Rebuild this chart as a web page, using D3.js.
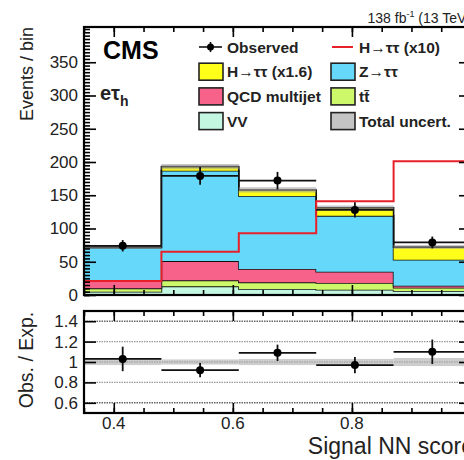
<!DOCTYPE html>
<html>
<head>
<meta charset="utf-8">
<script src="https://cdn.jsdelivr.net/npm/d3@7"></script>
<style>
  body { margin: 0; background: #fff; }
  text { font-family: "Liberation Sans", Arial, sans-serif; }
</style>
</head>
<body>
<svg id="chart"></svg>
<script>
// binned NN score distribution, e-tau_h channel
const binEdges = [0.35, 0.48, 0.61, 0.74, 0.87, 1.0];
const vv = [5, 13, 9, 8, 6];
const ttbar = [5, 9, 10, 10, 5];
const qcd = [11, 29, 20, 17, 3];
const ztt = [50, 136, 110, 84, 39];
const htt = [1, 6, 9, 12, 19];
const hx10 = [21, 65, 93, 141, 201];
const observed = [74, 179, 172, 128, 79];
const obsErr = [8.6, 13.4, 13.1, 11.3, 8.9];
const totalUnc = [2.5, 4, 4, 3.5, 3];
const ratio = [1.03, 0.92, 1.09, 0.97, 1.10];
const ratioErr = [0.12, 0.07, 0.08, 0.08, 0.12];
const ratioUnc = [0.03, 0.025, 0.03, 0.03, 0.04];
const yTicks = [0, 50, 100, 150, 200, 250, 300, 350];
const rTicks = [0.6, 0.8, 1, 1.2, 1.4];
const xTicks = [0.4, 0.6, 0.8, 1.0];
const xLabels = [0.4, 0.6, 0.8];

const width = 464;
const height = 460;

const svg = d3.select("#chart")
    .attr("width", width)
    .attr("height", height);

const left = 84, right = 471;
const x = d3.scaleLinear().domain([0.35, 1.0]).range([left, right]);
const y = d3.scaleLinear().domain([0, 403]).range([295, 27]);
const yr = d3.scaleLinear().domain([0.5, 1.5]).range([413, 311]);

// stack table built from the arrays
const keys = ["vv", "ttbar", "qcd", "ztt", "htt"];
const colors = { vv: "#c4f7e2", ttbar: "#ccf86a", qcd: "#f7628b", ztt: "#66d9fa", htt: "#ffff1a" };
const table = binEdges.slice(0, -1).map((e, i) => ({
    lo: e, vv: vv[i], ttbar: ttbar[i], qcd: qcd[i], ztt: ztt[i], htt: htt[i]
}));
const series = d3.stack().keys(keys)(table);

// step points: one per bin edge, last repeats last bin
function stepPts(vals) {
    const pts = vals.map((v, i) => [binEdges[i], v]);
    pts.push([binEdges[binEdges.length - 1], vals[vals.length - 1]]);
    return pts;
}

const area = d3.area()
    .curve(d3.curveStepAfter)
    .x(d => x(d[0]))
    .y0(d => y(d[1]))
    .y1(d => y(d[2]));
const line = d3.line()
    .curve(d3.curveStepAfter)
    .x(d => x(d[0]))
    .y(d => y(d[1]));

const main = svg.append("g");

series.forEach(s => {
    const pts = s.map((d, i) => [binEdges[i], d[0], d[1]]);
    pts.push([binEdges[binEdges.length - 1], s[s.length - 1][0], s[s.length - 1][1]]);
    main.append("path")
        .attr("d", area(pts))
        .attr("fill", colors[s.key]);
    main.append("path")
        .attr("d", line(pts.map(p => [p[0], p[2]])))
        .attr("fill", "none")
        .attr("stroke", "#111")
        .attr("stroke-width", 1.6);
});

// total uncertainty band
const totals = table.map(r => keys.reduce((a, k) => a + r[k], 0));
const uncPts = stepPts(totals).map((p, i) => {
    const j = Math.min(i, totals.length - 1);
    return [p[0], p[1] - totalUnc[j], p[1] + totalUnc[j]];
});
main.append("path")
    .attr("d", area(uncPts))
    .attr("fill", "#9a9a9a")
    .attr("opacity", 0.55);

// signal x10 line
main.append("path")
    .attr("d", line(stepPts(hx10)))
    .attr("fill", "none")
    .attr("stroke", "#e8202a")
    .attr("stroke-width", 2);

// observed points
const centers = binEdges.slice(0, -1).map((e, i) => (e + binEdges[i + 1]) / 2);
observed.forEach((v, i) => {
    main.append("line")
        .attr("x1", x(binEdges[i])).attr("x2", x(binEdges[i + 1]))
        .attr("y1", y(v)).attr("y2", y(v))
        .attr("stroke", "#111").attr("stroke-width", 1.8);
    main.append("line")
        .attr("x1", x(centers[i])).attr("x2", x(centers[i]))
        .attr("y1", y(v - obsErr[i])).attr("y2", y(v + obsErr[i]))
        .attr("stroke", "#111").attr("stroke-width", 1.8);
    main.append("circle")
        .attr("cx", x(centers[i])).attr("cy", y(v)).attr("r", 4)
        .attr("fill", "#000");
});

// ratio panel
const rp = svg.append("g");
ratioUnc.forEach((u, i) => {
    rp.append("rect")
        .attr("x", x(binEdges[i])).attr("width", x(binEdges[i + 1]) - x(binEdges[i]))
        .attr("y", yr(1 + u)).attr("height", yr(1 - u) - yr(1 + u))
        .attr("fill", "#cdcdcd");
});
rTicks.forEach(t => {
    const edge = (t === 0.6 || t === 1.4);
    rp.append("line")
        .attr("x1", left).attr("x2", right)
        .attr("y1", yr(t)).attr("y2", yr(t))
        .attr("stroke", edge ? "#666" : "#999")
        .attr("stroke-width", edge ? 1.6 : 1.2)
        .attr("stroke-dasharray", "1.5,1");
});
ratio.forEach((v, i) => {
    rp.append("line")
        .attr("x1", x(binEdges[i])).attr("x2", x(binEdges[i + 1]))
        .attr("y1", yr(v)).attr("y2", yr(v))
        .attr("stroke", "#111").attr("stroke-width", 1.8);
    rp.append("line")
        .attr("x1", x(centers[i])).attr("x2", x(centers[i]))
        .attr("y1", yr(v - ratioErr[i])).attr("y2", yr(v + ratioErr[i]))
        .attr("stroke", "#111").attr("stroke-width", 1.8);
    rp.append("circle")
        .attr("cx", x(centers[i])).attr("cy", yr(v)).attr("r", 4)
        .attr("fill", "#000");
});

// axes with inward ticks
function styleAxis(g) {
    g.select(".domain").remove();
    g.selectAll("line").attr("stroke", "#000").attr("stroke-width", 1.6);
    g.selectAll("text").attr("font-size", 17).attr("fill", "#222")
        .attr("font-family", "Liberation Sans, Arial, sans-serif");
}
const yMinor = d3.range(0, 403, 5);
svg.append("g").attr("transform", `translate(${left},0)`)
    .call(d3.axisLeft(y).tickValues(yMinor).tickSize(-6).tickFormat(""))
    .call(styleAxis);
svg.append("g").attr("transform", `translate(${left},0)`)
    .call(d3.axisLeft(y).tickValues(yTicks).tickSize(-12).tickPadding(6))
    .call(styleAxis);
svg.append("g").attr("transform", `translate(${right},0)`)
    .call(d3.axisRight(y).tickValues(yTicks).tickSize(-12).tickFormat(""))
    .call(styleAxis);

svg.append("g").attr("transform", `translate(${left},0)`)
    .call(d3.axisLeft(yr).tickValues(rTicks).tickSize(-12).tickPadding(6)
        .tickFormat(d => d === 1 ? "1" : d3.format(".1f")(d)))
    .call(styleAxis);
svg.append("g").attr("transform", `translate(${right},0)`)
    .call(d3.axisRight(yr).tickValues(rTicks).tickSize(-12).tickFormat(""))
    .call(styleAxis);

const xMinor = d3.range(0.35, 1.0001, 0.05);
[[27, "top"], [295, "bottom"], [311, "top"], [413, "bottom"]].forEach(([yy, side]) => {
    const ax = side === "top" ? d3.axisTop : d3.axisBottom;
    svg.append("g").attr("transform", `translate(0,${yy})`)
        .call(ax(x).tickValues(xMinor).tickSize(-5).tickFormat(""))
        .call(styleAxis);
    svg.append("g").attr("transform", `translate(0,${yy})`)
        .call(ax(x).tickValues(xTicks).tickSize(-10).tickFormat(""))
        .call(styleAxis);
});
// x tick labels under the ratio panel
svg.append("g").selectAll("text")
    .data(xLabels)
    .enter()
    .append("text")
    .attr("x", d => x(d)).attr("y", 429)
    .attr("text-anchor", "middle")
    .attr("font-size", 17).attr("fill", "#222")
    .text(d => d3.format(".1f")(d));

// frames
[[27, 295], [311, 413]].forEach(([t, b]) => {
    svg.append("rect")
        .attr("x", left).attr("y", t)
        .attr("width", right - left).attr("height", b - t)
        .attr("fill", "none").attr("stroke", "#000").attr("stroke-width", 2.2);
});

// titles
svg.append("text")
    .attr("transform", "translate(33,27) rotate(-90)")
    .attr("text-anchor", "end")
    .attr("font-size", 18).attr("fill", "#222")
    .text("Events / bin");
svg.append("text")
    .attr("transform", "translate(33,360) rotate(-90)")
    .attr("text-anchor", "middle")
    .attr("font-size", 19.5).attr("fill", "#222")
    .text("Obs. / Exp.");
svg.append("text")
    .attr("x", 474).attr("y", 454)
    .attr("text-anchor", "end")
    .attr("font-size", 23).attr("fill", "#222")
    .text("Signal NN score");

const lumi = svg.append("text")
    .attr("x", right).attr("y", 23)
    .attr("text-anchor", "end")
    .attr("font-size", 14).attr("fill", "#222");
lumi.append("tspan").text("138 fb");
lumi.append("tspan").attr("font-size", 9).attr("dy", -6).text("-1");
lumi.append("tspan").attr("dy", 6).text(" (13 TeV)");

svg.append("text")
    .attr("x", 103).attr("y", 59)
    .attr("font-size", 25).attr("font-weight", "bold")
    .text("CMS");
const chan = svg.append("text")
    .attr("x", 100).attr("y", 100)
    .attr("font-size", 20).attr("font-weight", "bold").attr("fill", "#222");
chan.append("tspan").text("eτ");
chan.append("tspan").attr("font-size", 14).attr("dy", 6).text("h");

// legend
const legendCol1 = [
    { label: "Observed", kind: "obs" },
    { label: "H→ττ (x1.6)", kind: "box", color: colors.htt },
    { label: "QCD multijet", kind: "box", color: colors.qcd },
    { label: "VV", kind: "box", color: colors.vv }
];
const legendCol2 = [
    { label: "H→ττ (x10)", kind: "line", color: "#e8202a" },
    { label: "Z→ττ", kind: "box", color: colors.ztt },
    { label: "tt̄", kind: "box", color: colors.ttbar },
    { label: "Total uncert.", kind: "box", color: "#c4c4c4" }
];
const legend = svg.append("g");
[[legendCol1, 199], [legendCol2, 331]].forEach(([col, lx]) => {
    col.forEach((d, i) => {
        const cy = 47 + i * 24.7;
        if (d.kind === "box") {
            legend.append("rect")
                .attr("x", lx).attr("y", cy - 8.5).attr("width", 24).attr("height", 17)
                .attr("fill", d.color).attr("stroke", "#222").attr("stroke-width", 1.6);
        } else if (d.kind === "line") {
            legend.append("line")
                .attr("x1", lx + 1).attr("x2", lx + 22).attr("y1", cy).attr("y2", cy)
                .attr("stroke", d.color).attr("stroke-width", 2);
        } else {
            legend.append("line")
                .attr("x1", lx).attr("x2", lx + 23).attr("y1", cy).attr("y2", cy)
                .attr("stroke", "#111").attr("stroke-width", 1.6);
            legend.append("line")
                .attr("x1", lx + 11.5).attr("x2", lx + 11.5).attr("y1", cy - 5).attr("y2", cy + 5)
                .attr("stroke", "#111").attr("stroke-width", 1.6);
            legend.append("circle")
                .attr("cx", lx + 11.5).attr("cy", cy).attr("r", 3.5).attr("fill", "#000");
        }
        legend.append("text")
            .attr("x", lx + 28).attr("y", cy + 5.5)
            .attr("font-size", 15.5).attr("font-weight", "bold").attr("fill", "#222")
            .text(d.label);
    });
});
</script>
</body>
</html>
